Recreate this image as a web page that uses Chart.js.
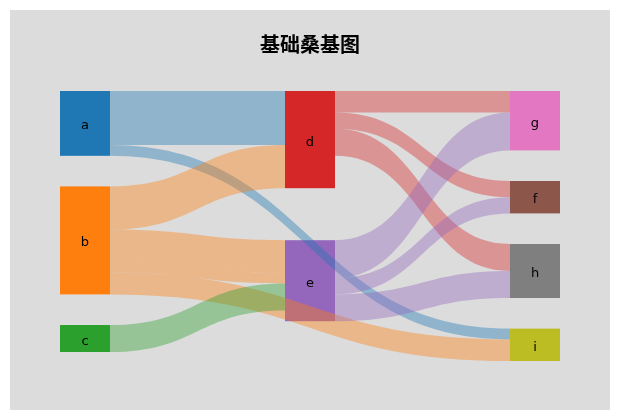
<!DOCTYPE html>
<html>
<head>
<meta charset="utf-8">
<title>基础桑基图</title>
<script src="https://cdn.jsdelivr.net/npm/chart.js@4/dist/chart.umd.min.js"></script>
<style>
    html, body { margin: 0; padding: 0; background: #ffffff; }
    #wrap { position: absolute; left: 10px; top: 10px; width: 600px; height: 400px; background: #dcdcdc; }
</style>
</head>
<body>
<div id="wrap"><canvas id="sankeyChart"></canvas></div>
<script>
// Nodos (en el orden en que aparecen de arriba a abajo) y enlaces
const nodeNames = ['a', 'b', 'c', 'd', 'e', 'g', 'f', 'h', 'i'];
const nodeColors = ['#1f77b4', '#ff7f0e', '#2ca02c', '#d62728', '#9467bd', '#e377c2', '#8c564b', '#7f7f7f', '#bcbd22'];
const linkSources = ['a', 'a', 'b', 'b', 'b', 'b', 'c', 'd', 'd', 'd', 'e', 'e', 'e'];
const linkTargets = ['d', 'i', 'd', 'e', 'e', 'i', 'e', 'g', 'f', 'h', 'g', 'f', 'h'];
const linkValues = [10, 2, 8, 6, 2, 4, 5, 4, 3, 5, 7, 3, 5];

// ajustes de layout
const nodeWidth = 50;
const columnGaps = [17 / 3, 9.63, 17 / 3];
const linkAlpha = 0.4;

// columna de cada nodo: profundidad, y los nodos finales van a la última columna
const depth = {};
nodeNames.forEach(n => { depth[n] = 0; });
for (let k = 0; k < nodeNames.length; k++) {
    linkSources.forEach((s, i) => {
        depth[linkTargets[i]] = Math.max(depth[linkTargets[i]], depth[s] + 1);
    });
}
const maxDepth = Math.max(...Object.values(depth));
nodeNames.forEach(n => {
    if (!linkSources.includes(n)) depth[n] = maxDepth;
});

// valor de cada nodo = max(entrada, salida)
const nodes = {};
nodeNames.forEach((n, i) => {
    let inV = 0, outV = 0;
    linkValues.forEach((v, j) => {
        if (linkTargets[j] === n) inV += v;
        if (linkSources[j] === n) outV += v;
    });
    nodes[n] = { name: n, color: nodeColors[i], col: depth[n], value: Math.max(inV, outV), y0: 0 };
});

// apilar nodos por columna
for (let c = 0; c <= maxDepth; c++) {
    let y = 0;
    nodeNames.filter(n => nodes[n].col === c).forEach(n => {
        nodes[n].y0 = y;
        y += nodes[n].value + columnGaps[c];
    });
}

// posiciones de los enlaces dentro de cada nodo
const links = linkValues.map((v, i) => ({ source: nodes[linkSources[i]], target: nodes[linkTargets[i]], value: v }));
nodeNames.forEach(n => {
    let off = 0;
    links.filter(l => l.source.name === n)
        .sort((p, q) => p.target.y0 - q.target.y0)
        .forEach(l => { l.sy = nodes[n].y0 + off; off += l.value; });
    off = 0;
    links.filter(l => l.target.name === n)
        .sort((p, q) => p.source.y0 - q.source.y0)
        .forEach(l => { l.ty = nodes[n].y0 + off; off += l.value; });
});

function hexToRgba(hex, a) {
    const v = parseInt(hex.slice(1), 16);
    return 'rgba(' + (v >> 16) + ',' + ((v >> 8) & 255) + ',' + (v & 255) + ',' + a + ')';
}

const sankeyPlugin = {
    id: 'sankeyDraw',
    afterDatasetsDraw(chart) {
        const ctx = chart.ctx;
        const xs = chart.scales.x;
        const ys = chart.scales.y;
        ctx.save();

        // nodos
        nodeNames.forEach(n => {
            const nd = nodes[n];
            const cx = xs.getPixelForValue(nd.col);
            const top = ys.getPixelForValue(nd.y0);
            const bottom = ys.getPixelForValue(nd.y0 + nd.value);
            ctx.fillStyle = nd.color;
            ctx.fillRect(cx - nodeWidth / 2, top, nodeWidth, bottom - top);
        });

        // enlaces
        links.forEach(l => {
            const x0 = xs.getPixelForValue(l.source.col) + nodeWidth / 2;
            const x1 = xs.getPixelForValue(l.target.col) - nodeWidth / 2;
            const xm = (x0 + x1) / 2;
            const s0 = ys.getPixelForValue(l.sy);
            const s1 = ys.getPixelForValue(l.sy + l.value);
            const t0 = ys.getPixelForValue(l.ty);
            const t1 = ys.getPixelForValue(l.ty + l.value);
            ctx.beginPath();
            ctx.moveTo(x0, s0);
            ctx.bezierCurveTo(xm, s0, xm, t0, x1, t0);
            ctx.lineTo(x1, t1);
            ctx.bezierCurveTo(xm, t1, xm, s1, x0, s1);
            ctx.closePath();
            ctx.fillStyle = hexToRgba(l.source.color, linkAlpha);
            ctx.fill();
        });

        // etiquetas
        ctx.fillStyle = '#000000';
        ctx.font = '13px "DejaVu Sans", sans-serif';
        ctx.textAlign = 'center';
        ctx.textBaseline = 'alphabetic';
        nodeNames.forEach(n => {
            const nd = nodes[n];
            ctx.fillText(n, xs.getPixelForValue(nd.col), ys.getPixelForValue(nd.y0 + nd.value / 2) + 6);
        });
        ctx.restore();
    }
};

const ctxSankey = document.getElementById('sankeyChart').getContext('2d');
const sankeyChart = new Chart(ctxSankey, {
    type: 'scatter',
    data: {
        datasets: [{
            label: 'nodos',
            data: nodeNames.map(n => ({ x: nodes[n].col, y: nodes[n].y0 + nodes[n].value / 2 })),
            pointRadius: 0,
            pointHoverRadius: 0
        }]
    },
    options: {
        responsive: true,
        maintainAspectRatio: false,
        animation: false,
        layout: {
            padding: { left: 50, right: 50, top: 0, bottom: 49 }
        },
        plugins: {
            title: {
                display: true,
                text: '基础桑基图',
                color: '#000000',
                padding: { top: 22, bottom: 35 },
                font: {
                    family: '"Noto Sans CJK SC", sans-serif',
                    size: 20,
                    weight: 'bold',
                    lineHeight: 1.2
                }
            },
            legend: { display: false },
            tooltip: { enabled: false }
        },
        scales: {
            x: { type: 'linear', display: false, min: -1 / 9, max: 2 + 1 / 9 },
            y: { type: 'linear', display: false, min: 0, max: 50, reverse: true }
        }
    },
    plugins: [sankeyPlugin]
});
</script>
</body>
</html>
